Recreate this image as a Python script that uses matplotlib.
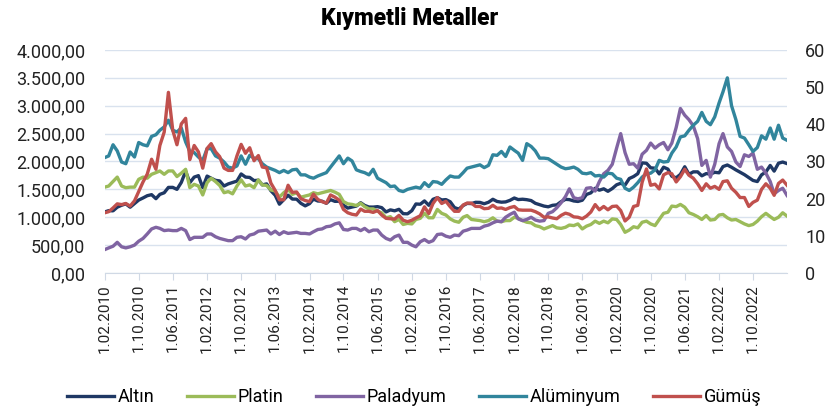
import matplotlib
matplotlib.use("Agg")
import matplotlib.pyplot as plt
import pandas as pd

plt.rcParams['font.family'] = ['Roboto', 'DejaVu Sans']

# aylık veriler, 1.02.2010 - 1.06.2023
dates = pd.date_range("2010-02-01", "2023-06-01", freq="MS")

altin = [
    1095, 1118, 1115, 1180, 1215, 1240, 1180, 1246, 1308, 1346, 1386,
    1405, 1333, 1410, 1439, 1535, 1536, 1500, 1624, 1825, 1620, 1720, 1746,
    1531, 1738, 1700, 1662, 1651, 1560, 1598, 1622, 1648, 1776, 1720, 1714,
    1657, 1664, 1580, 1598, 1476, 1394, 1234, 1314, 1395, 1326, 1324, 1250,
    1204, 1244, 1326, 1291, 1288, 1250, 1315, 1285, 1287, 1216, 1164, 1183,
    1200, 1260, 1212, 1183, 1182, 1190, 1172, 1095, 1132, 1115, 1142, 1064,
    1061, 1118, 1238, 1233, 1293, 1214, 1322, 1351, 1310, 1316, 1277, 1173,
    1146, 1210, 1248, 1245, 1268, 1266, 1242, 1269, 1322, 1283, 1270, 1275,
    1303, 1345, 1317, 1323, 1315, 1299, 1250, 1224, 1200, 1187, 1214, 1222,
    1279, 1321, 1316, 1292, 1283, 1305, 1409, 1437, 1520, 1485, 1510, 1465,
    1515, 1582, 1609, 1577, 1694, 1730, 1781, 1975, 1968, 1886, 1880, 1777,
    1898, 1863, 1734, 1708, 1769, 1906, 1770, 1814, 1814, 1743, 1783, 1774,
    1806, 1797, 1909, 1937, 1897, 1849, 1807, 1764, 1712, 1660, 1640, 1760,
    1812, 1929, 1827, 1969, 1990, 1962,
]

platin = [
    1540, 1560, 1640, 1720, 1560, 1530, 1540, 1540, 1680, 1720, 1700,
    1770, 1800, 1830, 1770, 1830, 1830, 1730, 1790, 1860, 1530, 1590, 1560,
    1400, 1620, 1700, 1640, 1570, 1440, 1460, 1420, 1560, 1670, 1560, 1580,
    1530, 1670, 1580, 1570, 1490, 1470, 1360, 1440, 1500, 1410, 1440, 1360,
    1380, 1400, 1440, 1420, 1440, 1460, 1480, 1450, 1410, 1280, 1240, 1230,
    1210, 1250, 1190, 1150, 1150, 1110, 1080, 990, 1010, 920, 960, 870,
    890, 880, 960, 980, 1070, 990, 990, 1140, 1070, 1040, 970, 930,
    910, 1000, 1030, 960, 950, 940, 920, 940, 990, 930, 920, 940,
    940, 1000, 980, 940, 910, 900, 850, 830, 790, 820, 850, 810,
    800, 820, 860, 850, 880, 790, 840, 870, 930, 890, 930, 900,
    970, 960, 870, 730, 770, 830, 810, 910, 930, 880, 850, 960,
    1070, 1090, 1200, 1190, 1230, 1180, 1080, 1050, 1010, 960, 1030, 950,
    960, 1040, 1050, 990, 950, 960, 920, 880, 850, 870, 930, 1010,
    1070, 1010, 960, 1000, 1080, 1020,
]

paladyum = [
    420, 450, 480, 550, 470, 450, 470, 500, 570, 620, 700,
    790, 820, 800, 760, 770, 760, 760, 800, 760, 600, 640, 640,
    640, 700, 700, 650, 620, 600, 580, 580, 640, 650, 610, 680,
    700, 750, 760, 770, 700, 750, 690, 740, 710, 720, 730, 710,
    710, 700, 740, 780, 790, 830, 840, 880, 900, 780, 770, 800,
    800, 760, 800, 740, 770, 770, 680, 620, 590, 650, 680, 550,
    550, 500, 470, 560, 600, 550, 580, 690, 700, 660, 640, 680,
    670, 750, 770, 800, 800, 800, 840, 860, 900, 930, 920, 1000,
    1050, 1090, 970, 940, 960, 1000, 950, 930, 940, 1070, 1100, 1170,
    1260, 1370, 1510, 1350, 1330, 1350, 1520, 1530, 1470, 1640, 1780, 1840,
    1950, 2240, 2500, 2160, 1950, 1960, 1880, 2130, 2200, 2330, 2240, 2300,
    2340, 2210, 2330, 2610, 2950, 2830, 2750, 2640, 2410, 1930, 2020, 1720,
    1950, 2320, 2500, 2260, 2180, 1990, 1910, 2120, 2090, 2150, 1860, 1900,
    1790, 1640, 1420, 1480, 1520, 1390,
]

aluminyum = [
    2070, 2100, 2300, 2190, 1990, 1960, 2170, 2080, 2340, 2300, 2280,
    2450, 2480, 2560, 2620, 2740, 2560, 2530, 2600, 2350, 2180, 2160, 2080,
    2020, 2230, 2230, 2100, 2060, 1990, 1900, 1880, 1920, 2100, 1950, 2110,
    2060, 2050, 1960, 1900, 1870, 1840, 1800, 1840, 1800, 1850, 1860, 1760,
    1760, 1720, 1700, 1740, 1770, 1800, 1900, 2000, 2100, 1960, 2060, 2010,
    1850, 1820, 1800, 1760, 1860, 1700, 1660, 1620, 1550, 1560, 1480, 1460,
    1500, 1520, 1540, 1520, 1620, 1550, 1640, 1630, 1590, 1670, 1740, 1720,
    1720, 1800, 1880, 1900, 1920, 1940, 1890, 1930, 2120, 2110, 2180, 2090,
    2260, 2200, 2150, 2020, 2320, 2270, 2190, 2060, 2060, 2050, 2000, 1950,
    1900, 1870, 1880, 1900, 1860, 1790, 1780, 1800, 1740, 1750, 1720, 1790,
    1780, 1700, 1680, 1520, 1480, 1540, 1620, 1720, 1780, 1790, 1850, 2020,
    1990, 2000, 2150, 2260, 2440, 2460, 2560, 2650, 2720, 2880, 2720, 2660,
    2800, 3050, 3250, 3500, 3000, 2750, 2450, 2420, 2300, 2180, 2250, 2460,
    2400, 2600, 2400, 2650, 2420, 2380,
]

# gümüş sağ eksende
gumus = [
    16.2, 16.5, 17.5, 18.6, 18.4, 18.7, 18.0, 19.4, 21.9, 24.5, 26.6,
    30.6, 27.9, 34.3, 37.9, 48.6, 38.4, 34.5, 40.1, 41.6, 30.5, 34.3, 32.6,
    28.2, 33.5, 34.8, 32.6, 31.3, 28.2, 27.6, 27.6, 31.5, 34.6, 32.2, 33.7,
    30.2, 31.6, 28.5, 28.3, 24.2, 22.2, 19.7, 19.7, 23.6, 21.7, 21.8, 20.0,
    19.5, 19.2, 21.2, 19.8, 19.2, 18.8, 21.0, 20.4, 19.6, 17.1, 16.2, 15.8,
    15.6, 17.2, 16.6, 16.6, 16.3, 16.8, 15.6, 14.7, 14.6, 14.5, 15.5, 14.2,
    13.8, 14.2, 14.8, 15.4, 17.8, 16.0, 18.7, 20.3, 18.7, 19.3, 17.8, 16.6,
    16.6, 18.3, 18.8, 18.8, 17.9, 17.9, 17.3, 17.4, 18.2, 17.4, 17.5, 17.1,
    17.6, 17.9, 17.0, 16.9, 16.9, 16.9, 16.5, 15.9, 15.0, 15.1, 14.8, 14.6,
    15.5, 16.1, 15.8, 15.1, 15.0, 14.6, 15.3, 16.4, 18.4, 17.0, 17.9, 17.0,
    17.9, 18.0, 16.8, 14.0, 15.0, 17.9, 18.2, 24.4, 28.0, 23.6, 23.9, 22.6,
    26.4, 27.0, 26.7, 24.5, 25.9, 27.9, 26.3, 25.5, 24.0, 22.2, 24.0, 22.8,
    23.3, 22.5, 24.6, 24.8, 22.8, 21.7, 20.3, 20.3, 17.9, 19.0, 19.6, 22.5,
    24.0, 22.8, 20.9, 24.1, 25.0, 23.6,
]

seriler = ["Altın", "Platin", "Paladyum", "Alüminyum", "Gümüş"]
renkler = ["#1F3864", "#9BBB59", "#8064A2", "#31859C", "#C0504D"]

fig = plt.figure(figsize=(8.25, 4.13), dpi=100)
ax = fig.add_axes([0.127, 0.339, 0.827, 0.540])
ax2 = ax.twinx()

cizgiler = []
for veri, ad, renk in zip([altin, platin, paladyum, aluminyum], seriler[:4], renkler[:4]):
    l, = ax.plot(dates, veri, color=renk, lw=2.4, label=ad)
    cizgiler.append(l)
l, = ax2.plot(dates, gumus, color=renkler[4], lw=2.4, label=seriler[4])
cizgiler.append(l)

ax.set_xlim(dates[0], dates[-1])
ax.set_ylim(0, 4000)
ax2.set_ylim(0, 60)

sol_ticks = list(range(0, 4001, 500))
ax.set_yticks(sol_ticks)
ax.set_yticklabels([f"{v:,.2f}".replace(",", "X").replace(".", ",").replace("X", ".") for v in sol_ticks])
ax2.set_yticks(range(0, 61, 10))
ax2.set_yticklabels([str(v) for v in range(0, 61, 10)])

# 8 ayda bir etiket, son etiket 1.10.2022
x_ticks = dates[:160:8]
ax.set_xticks(x_ticks)
ax.set_xticklabels([f"{d.day}.{d.month:02d}.{d.year}" for d in x_ticks], rotation=90)

ax.grid(axis="y", color="#D9E2EE", lw=1)
ax.set_axisbelow(True)
for a in (ax, ax2):
    for s in a.spines.values():
        s.set_visible(False)
ax.spines["bottom"].set_visible(True)
ax.spines["bottom"].set_color("#D0D9E5")

ax.tick_params(axis="y", length=0, labelsize=13, pad=14, colors="#222222")
ax2.tick_params(axis="y", length=0, labelsize=13, pad=13, colors="#222222")
ax.tick_params(axis="x", length=5, color="#D0D9E5", labelsize=11, pad=3, labelcolor="#222222")

fig.text(0.497, 0.956, "Kıymetli Metaller", ha="center", va="center",
         fontsize=16.5, fontweight="black")

fig.legend(cizgiler, seriler, loc="center", bbox_to_anchor=(0.502, 0.039), ncol=5,
           frameon=False, fontsize=13, handlelength=2.6, columnspacing=1.8,
           handletextpad=0.2)

fig.savefig("out.png", dpi=100)
